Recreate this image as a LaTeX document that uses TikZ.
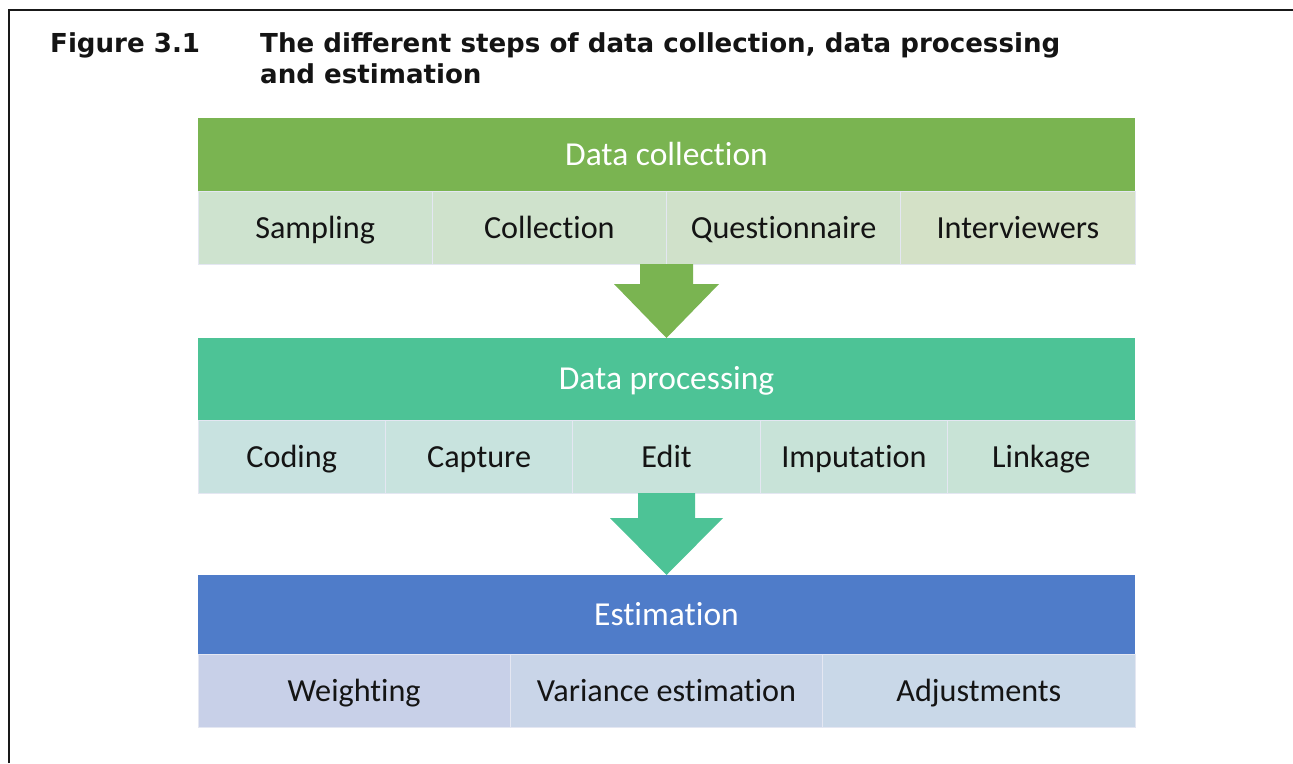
\documentclass[tikz,border=0pt]{standalone}
\usepackage{fontspec}
\setmainfont{Carlito}[Ligatures={NoCommon}]
\newfontfamily\titlefont{DejaVu Sans}
\usetikzlibrary{calc}
\definecolor{dcgreen}{RGB}{122,180,81}
\definecolor{dpteal}{RGB}{77,195,150}
\definecolor{esblue}{RGB}{79,124,201}
\definecolor{cellline}{RGB}{228,231,242}
\definecolor{txt}{RGB}{20,20,20}
\definecolor{cA1}{RGB}{206,227,207}
\definecolor{cA2}{RGB}{207,226,204}
\definecolor{cA3}{RGB}{208,225,202}
\definecolor{cA4}{RGB}{212,225,199}
\definecolor{cB1}{RGB}{200,226,224}
\definecolor{cB2}{RGB}{200,227,222}
\definecolor{cB3}{RGB}{200,227,219}
\definecolor{cB4}{RGB}{200,227,216}
\definecolor{cB5}{RGB}{200,227,214}
\definecolor{cC1}{RGB}{200,208,232}
\definecolor{cC2}{RGB}{201,213,232}
\definecolor{cC3}{RGB}{201,216,232}
\begin{document}
\begin{tikzpicture}[x=1pt,y=-1pt,
  header/.style={font=\fontsize{33.5}{38}\selectfont, text height=25pt, text depth=4pt,
    anchor=north west, inner sep=0pt, outer sep=0pt,
    minimum width=937pt, text=white},
  cell/.style={font=\fontsize{32.2}{38}\selectfont, text height=25pt, text depth=4pt,
    anchor=north west, inner sep=0pt, outer sep=0pt,
    minimum height=73pt, text=txt, draw=cellline, line width=0.7pt},
  cellA/.style={cell, minimum width=234.25pt},
  cellB/.style={cell, minimum width=187.4pt},
  cellC/.style={cell, minimum width=312.33pt},
  titletext/.style={anchor=base west, inner sep=0pt, text=txt,
    font=\titlefont\bfseries\fontsize{26.1}{31}\selectfont},
  frame/.style={draw=black!90, line width=2.5pt}
]
\useasboundingbox (0,0) rectangle (1293,763);
\fill[white] (0,0) rectangle (1293,763);

% frame
\draw[frame] (9,763) -- (9,10) -- (1293,10);

% title
\node[titletext] (fig) at (50,52) {Figure 3.1};
\node[titletext] (title1) at (260,52) {The different steps of data collection, data processing};
\node[titletext] (title2) at (260,83) {and estimation};

% data collection
\node[header, fill=dcgreen, minimum height=73pt] (dc) at (198,118) {Data collection};
\node[cellA, fill=cA1] (samp) at (198,191) {Sampling};
\node[cellA, fill=cA2] (coll) at (432.25,191) {Collection};
\node[cellA, fill=cA3] (quest) at (666.5,191) {Questionnaire};
\node[cellA, fill=cA4] (inter) at (900.75,191) {Interviewers};

% data processing
\node[header, fill=dpteal, minimum height=82pt] (dp) at (198,338) {Data processing};
\node[cellB, fill=cB1] (cod) at (198,420) {Coding};
\node[cellB, fill=cB2] (cap) at (385.4,420) {Capture};
\node[cellB, fill=cB3] (edit) at (572.8,420) {Edit};
\node[cellB, fill=cB4] (imp) at (760.2,420) {Imputation};
\node[cellB, fill=cB5] (link) at (947.6,420) {Linkage};

% estimation
\node[header, fill=esblue, minimum height=79pt] (es) at (198,575) {Estimation};
\node[cellC, fill=cC1] (wei) at (198,654) {Weighting};
\node[cellC, fill=cC2] (var) at (510.33,654) {Variance estimation};
\node[cellC, fill=cC3] (adj) at (822.67,654) {Adjustments};

% arrows
\coordinate (a1) at (dc.south |- samp.south);
\fill[dcgreen] ($(a1)+(-26.5,0)$) -- ($(a1)+(26.5,0)$) -- ($(a1)+(26.5,20)$)
  -- ($(a1)+(52.5,20)$) -- (dp.north) -- ($(a1)+(-52.5,20)$)
  -- ($(a1)+(-26.5,20)$) -- cycle;
\coordinate (a2) at (dp.south |- cod.south);
\fill[dpteal] ($(a2)+(-28.5,0)$) -- ($(a2)+(28.5,0)$) -- ($(a2)+(28.5,25)$)
  -- ($(a2)+(56.5,25)$) -- (es.north) -- ($(a2)+(-56.5,25)$)
  -- ($(a2)+(-28.5,25)$) -- cycle;
\end{tikzpicture}
\end{document}
